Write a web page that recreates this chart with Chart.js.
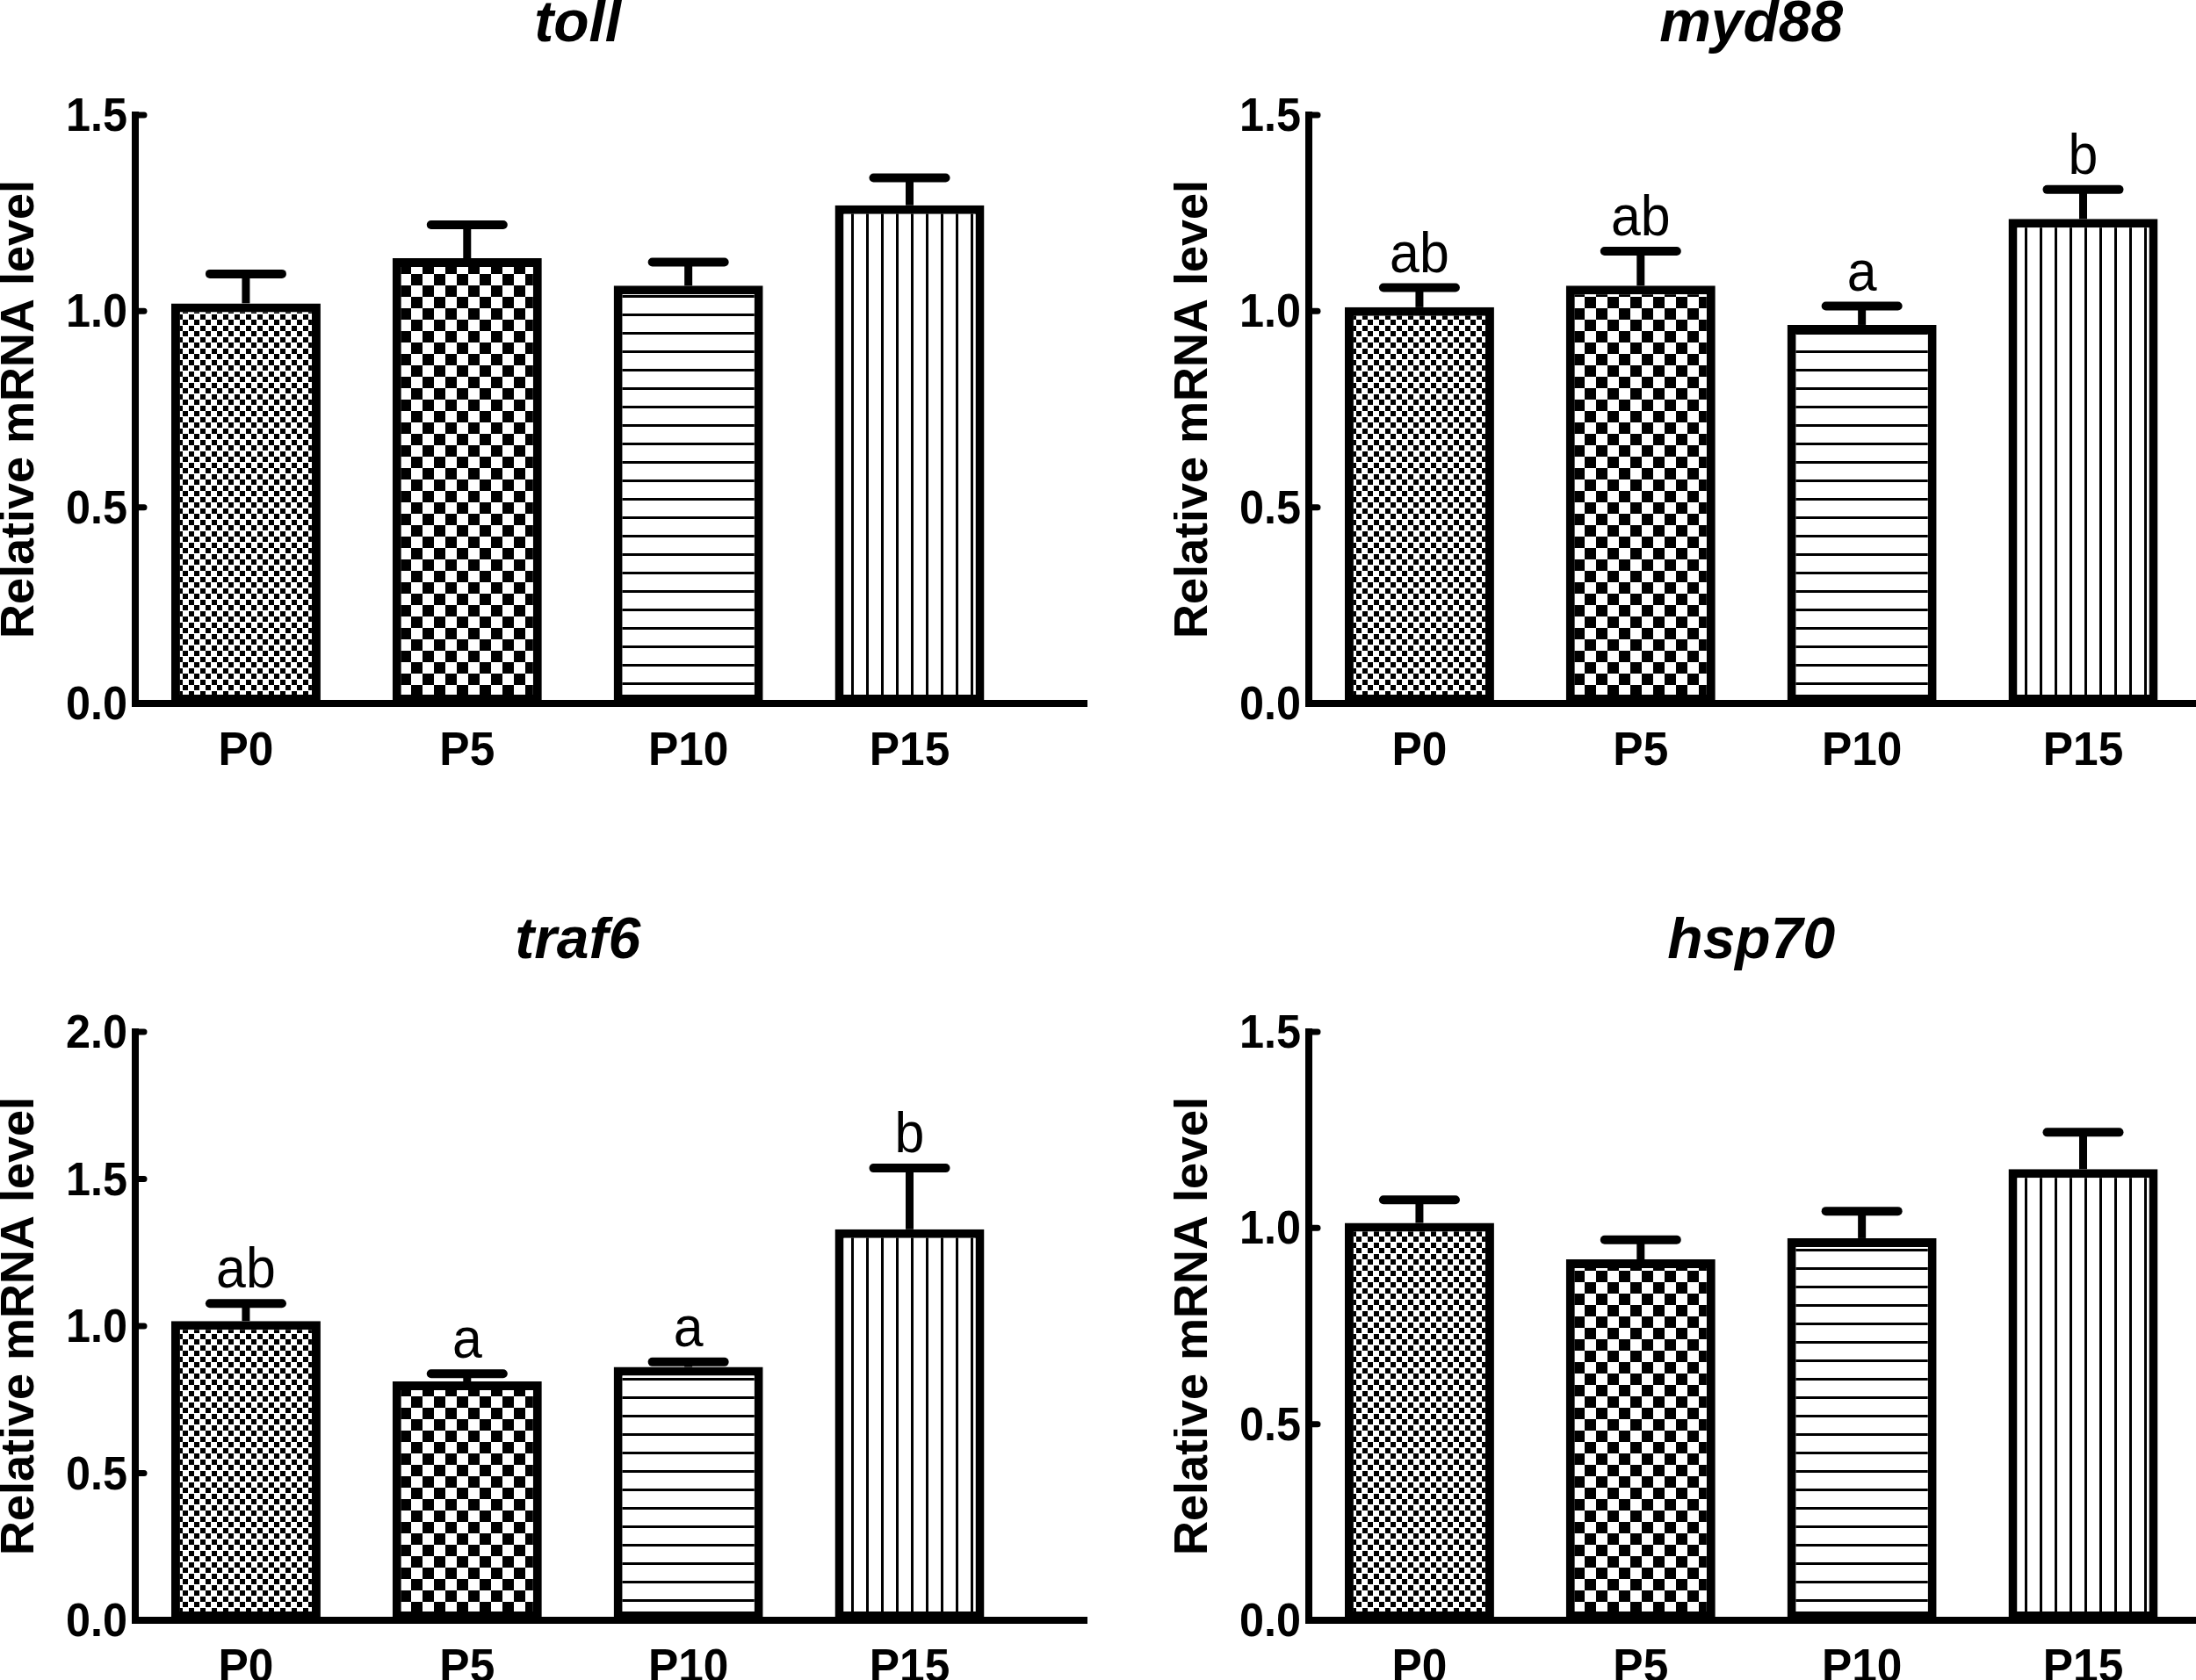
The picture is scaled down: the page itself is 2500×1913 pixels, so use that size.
<!DOCTYPE html>
<html>
<head>
<meta charset="utf-8">
<script src="https://cdn.jsdelivr.net/npm/chart.js@4.4.1/dist/chart.umd.min.js"></script>
<style>
  html, body { margin: 0; padding: 0; background: #fff; overflow: hidden; width: 2500px; height: 1913px; }
  .panel { position: absolute; width: 1260px; height: 900px; }
</style>
</head>
<body>
<div class="panel" style="left:0px;top:0px"><canvas id="chartToll" width="1260" height="900"></canvas></div>
<div class="panel" style="left:1336px;top:0px"><canvas id="chartMyd88" width="1260" height="900"></canvas></div>
<div class="panel" style="left:0px;top:1044px"><canvas id="chartTraf6" width="1260" height="900"></canvas></div>
<div class="panel" style="left:1336px;top:1044px"><canvas id="chartHsp70" width="1260" height="900"></canvas></div>

<script>
// data
var categories = ['P0', 'P5', 'P10', 'P15'];

var tollMean = [1.02, 1.135, 1.065, 1.27];
var tollSem = [0.075, 0.085, 0.06, 0.07];
var tollLetters = ['', '', '', ''];
var tollTicks = [0, 0.5, 1.0, 1.5];

var myd88Mean = [1.01, 1.065, 0.965, 1.235];
var myd88Sem = [0.05, 0.088, 0.048, 0.075];
var myd88Letters = ['ab', 'ab', 'a', 'b'];
var myd88Ticks = [0, 0.5, 1.0, 1.5];

var traf6Mean = [1.017, 0.812, 0.861, 1.329];
var traf6Sem = [0.06, 0.026, 0.017, 0.208];
var traf6Letters = ['ab', 'a', 'a', 'b'];
var traf6Ticks = [0, 0.5, 1.0, 1.5, 2.0];

var hsp70Mean = [1.013, 0.92, 0.974, 1.15];
var hsp70Sem = [0.059, 0.05, 0.069, 0.094];
var hsp70Letters = ['', '', '', ''];
var hsp70Ticks = [0, 0.5, 1.0, 1.5];

var yTitle = 'Relative mRNA level';

var SANS = '"Liberation Sans", Arial, sans-serif';

// fill patterns (fine checker, coarse checker, horizontal, vertical lines)
function makePattern(kind) {
  var c = document.createElement('canvas');
  var g = c.getContext('2d');
  if (kind === 'fine') {
    c.width = 13; c.height = 13;
    g.fillStyle = '#fff'; g.fillRect(0, 0, 13, 13);
    g.fillStyle = '#000';
    g.fillRect(0, 0, 6, 6);
    g.fillRect(7, 7, 6, 6);
  } else if (kind === 'coarse') {
    c.width = 26; c.height = 26;
    g.fillStyle = '#fff'; g.fillRect(0, 0, 26, 26);
    g.fillStyle = '#000';
    g.fillRect(0, 0, 13, 13);
    g.fillRect(13, 13, 13, 13);
  } else if (kind === 'hline') {
    c.width = 8; c.height = 21;
    g.fillStyle = '#fff'; g.fillRect(0, 0, 8, 21);
    g.fillStyle = '#000';
    g.fillRect(0, 0, 8, 3);
  } else {
    c.width = 17; c.height = 8;
    g.fillStyle = '#fff'; g.fillRect(0, 0, 17, 8);
    g.fillStyle = '#000';
    g.fillRect(0, 0, 3, 8);
  }
  return c;
}

// text in the figure is a little squeezed on x
function narrowText(ctx, text, x, y, font, align, sx) {
  ctx.save();
  ctx.translate(x, y);
  ctx.scale(sx, 1);
  ctx.font = font;
  ctx.textAlign = align;
  ctx.textBaseline = 'alphabetic';
  ctx.fillText(text, 0, 0);
  ctx.restore();
}

// error bars, letters, inward ticks, tick labels and italic gene title
var gpExtras = {
  id: 'gpExtras',
  afterDatasetsDraw: function(chart, args, opts) {
    var ctx = chart.ctx;
    var ys = chart.scales.y;
    var xs = chart.scales.x;
    var area = chart.chartArea;
    var meta = chart.getDatasetMeta(0);
    ctx.save();
    ctx.strokeStyle = '#000';
    ctx.fillStyle = '#000';
    opts.mean.forEach(function(m, i) {
      var bar = meta.data[i];
      var top = ys.getPixelForValue(m + opts.sem[i]);
      ctx.lineCap = 'butt';
      ctx.lineWidth = 9;
      ctx.beginPath(); ctx.moveTo(bar.x, bar.y); ctx.lineTo(bar.x, top); ctx.stroke();
      ctx.lineCap = 'round';
      ctx.lineWidth = 10;
      ctx.beginPath(); ctx.moveTo(bar.x - 41, top); ctx.lineTo(bar.x + 41, top); ctx.stroke();
      if (opts.letters[i]) {
        narrowText(ctx, opts.letters[i], bar.x, top - 18, '64px ' + SANS, 'center', 0.95);
      }
    });
    // ticks point into the plot
    ctx.lineWidth = 7;
    ctx.lineCap = 'round';
    ys.ticks.forEach(function(t) {
      var py = ys.getPixelForValue(t.value);
      ctx.beginPath(); ctx.moveTo(area.left, py); ctx.lineTo(area.left + 10, py); ctx.stroke();
      narrowText(ctx, t.value.toFixed(1), area.left - 9, py + 18, 'bold 53px ' + SANS, 'right', 0.95);
    });
    xs.ticks.forEach(function(t) {
      narrowText(ctx, categories[t.value], xs.getPixelForValue(t.value), area.bottom + 70, 'bold 53px ' + SANS, 'center', 0.97);
    });
    ctx.font = 'italic bold 66px ' + SANS;
    ctx.textAlign = 'center';
    ctx.textBaseline = 'middle';
    ctx.fillText(opts.title, xs.getPixelForValue((categories.length - 1) / 2), 29);
    ctx.restore();
  }
};

var fills = [makePattern('fine'), makePattern('coarse'), makePattern('hline'), makePattern('vline')];

function makeChart(id, title, mean, sem, letters, ticks) {
  var ctx = document.getElementById(id).getContext('2d');
  var patterns = fills.map(function(p) { return ctx.createPattern(p, 'repeat'); });
  return new Chart(ctx, {
    type: 'bar',
    data: {
      datasets: [{
        data: mean.map(function(v, i) { return { x: i, y: v }; }),
        backgroundColor: patterns,
        borderColor: '#000',
        borderWidth: 10,
        borderSkipped: false,
        barPercentage: 0.675,
        categoryPercentage: 1
      }]
    },
    options: {
      responsive: false,
      animation: false,
      devicePixelRatio: 1,
      layout: { padding: { top: 131, right: 23, left: 0, bottom: 0 } },
      plugins: {
        legend: { display: false },
        tooltip: { enabled: false },
        gpExtras: { title: title, mean: mean, sem: sem, letters: letters }
      },
      scales: {
        x: {
          type: 'linear',
          min: -0.5,
          max: 3.8,
          offset: false,
          grid: { display: false, drawTicks: false, offset: false },
          border: { display: true, color: '#000', width: 8 },
          afterBuildTicks: function(s) { s.ticks = categories.map(function(c, i) { return { value: i }; }); },
          afterFit: function(s) { s.height = 99; },
          ticks: { display: false }
        },
        y: {
          min: 0,
          max: ticks[ticks.length - 1],
          grid: { display: false, drawTicks: false },
          border: { display: true, color: '#000', width: 8 },
          afterBuildTicks: function(s) { s.ticks = ticks.map(function(v) { return { value: v }; }); },
          afterFit: function(s) { s.width = 154; },
          ticks: { display: false },
          title: {
            display: true,
            text: yTitle,
            color: '#000',
            padding: 0,
            font: { family: SANS, size: 54, weight: 'bold', lineHeight: 0.85 }
          }
        }
      }
    },
    plugins: [gpExtras]
  });
}

makeChart('chartToll', 'toll', tollMean, tollSem, tollLetters, tollTicks);
makeChart('chartMyd88', 'myd88', myd88Mean, myd88Sem, myd88Letters, myd88Ticks);
makeChart('chartTraf6', 'traf6', traf6Mean, traf6Sem, traf6Letters, traf6Ticks);
makeChart('chartHsp70', 'hsp70', hsp70Mean, hsp70Sem, hsp70Letters, hsp70Ticks);
</script>
</body>
</html>
